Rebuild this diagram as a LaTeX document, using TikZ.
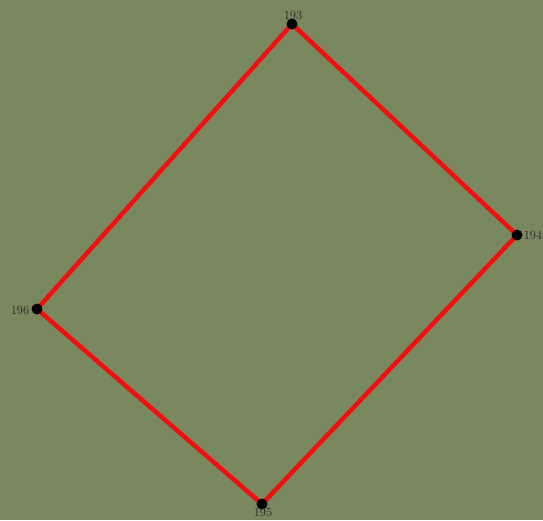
\documentclass[tikz,border=0pt]{standalone}
\usepackage{tikz}
\definecolor{bg}{HTML}{7A8860}
\definecolor{edge}{HTML}{F01010}
\pgfdeclarelayer{back}
\pgfdeclarelayer{edges}
\pgfsetlayers{back,edges,main}
\begin{document}
\begin{tikzpicture}[x=1pt,y=-1pt,
  vtx/.style={circle,fill=black,inner sep=0pt,minimum size=11pt},
  lbl/.style={font=\fontsize{12.5}{14}\selectfont,inner sep=1pt,text=black!85},
  link/.style={draw=edge,line width=4.5pt,line cap=round}]
\begin{pgfonlayer}{back}
\fill[bg] (0,0) rectangle (543,520);
\end{pgfonlayer}
\useasboundingbox (0,0) rectangle (543,520);
\node[vtx] (va) at (292,24) {};
\node[vtx] (vb) at (517,235) {};
\node[vtx] (vc) at (262,504) {};
\node[vtx] (vd) at (37,309) {};
\begin{pgfonlayer}{edges}
\draw[link] (va.center) -- (vb.center) -- (vc.center) -- (vd.center) -- cycle;
\end{pgfonlayer}
\node[lbl] (la) at (293,15) {193};
\node[lbl] (lb) at (533,235) {194};
\node[lbl] (lc) at (263,512) {195};
\node[lbl] (ld) at (20,310) {196};
\end{tikzpicture}
\end{document}
